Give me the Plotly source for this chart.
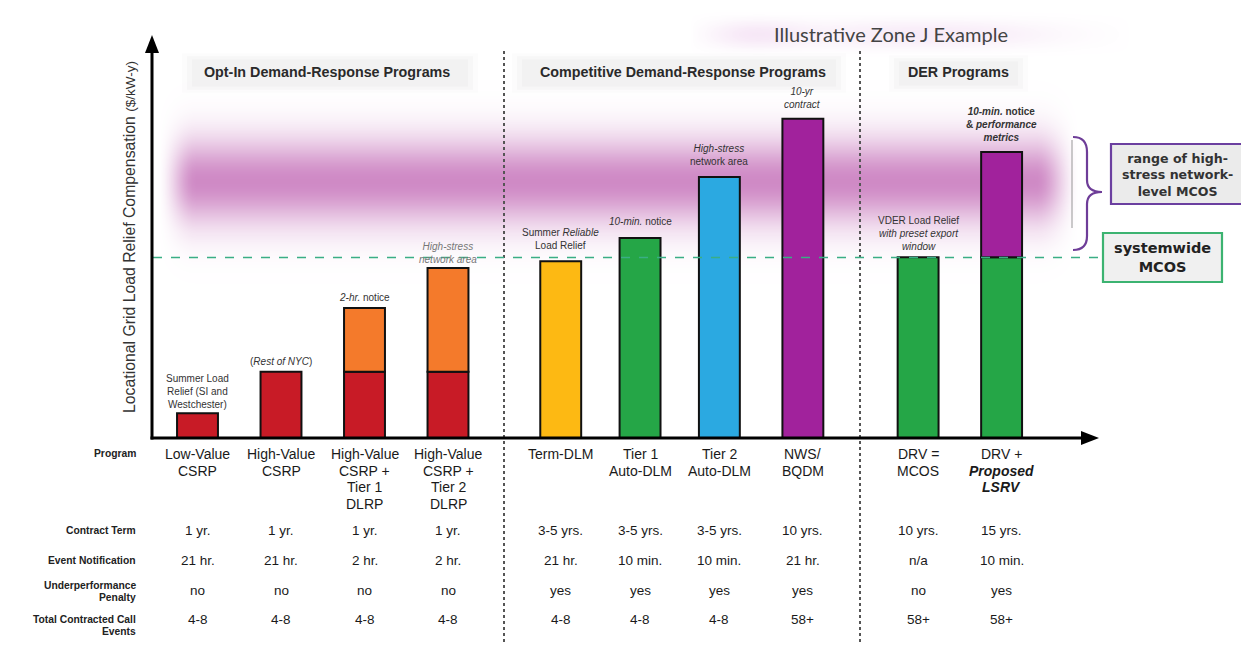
import numpy as np
import plotly.graph_objects as go

W, H = 1241, 651

# ---------------- data ----------------
programs = ["Low-Value<br>CSRP", "High-Value<br>CSRP", "High-Value<br>CSRP +<br>Tier 1<br>DLRP",
            "High-Value<br>CSRP +<br>Tier 2<br>DLRP", "Term-DLM", "Tier 1<br>Auto-DLM",
            "Tier 2<br>Auto-DLM", "NWS/<br>BQDM", "DRV =<br>MCOS",
            "DRV +<br><b><i>Proposed</i></b><br><b><i>LSRV</i></b>"]
base_values = [6.2, 16.5, 16.5, 16.5, 44.1, 49.9, 65.1, 79.6, 45.1, 45.1]
top_values = [None, None, 15.9, 25.9, None, None, None, None, None, 26.2]
systemwide_mcos = 45.0
high_stress_mcos_center = 64.0
high_stress_mcos_spread = 10.5

bar_notes = [
    "Summer Load<br>Relief (SI and<br>Westchester)",
    "(<i>Rest of NYC</i>)",
    "<i>2-hr.</i> notice",
    "<i>High-stress</i><br><i>network area</i>",
    "Summer <i>Reliable</i><br>Load Relief",
    "<i>10-min.</i> notice",
    "<i>High-stress</i><br>network area",
    "<i>10-yr</i><br><i>contract</i>",
    "VDER Load Relief<br><i>with preset export</i><br><i>window</i>",
    "<b><i>10-min.</i> notice</b><br><b>& <i>performance</i></b><br><b><i>metrics</i></b>",
]

row_labels = ["Program", "Contract Term", "Event Notification",
              "Underperformance<br>Penalty", "Total Contracted Call<br>Events"]
contract_term = ["1 yr.", "1 yr.", "1 yr.", "1 yr.", "3-5 yrs.", "3-5 yrs.", "3-5 yrs.",
                 "10 yrs.", "10 yrs.", "15 yrs."]
event_notification = ["21 hr.", "21 hr.", "2 hr.", "2 hr.", "21 hr.", "10 min.", "10 min.",
                      "21 hr.", "n/a", "10 min."]
underperformance_penalty = ["no", "no", "no", "no", "yes", "yes", "yes", "yes", "no", "yes"]
call_events = ["4-8", "4-8", "4-8", "4-8", "4-8", "4-8", "4-8", "58+", "58+", "58+"]

sections = ["Opt-In Demand-Response Programs", "Competitive Demand-Response Programs", "DER Programs"]
chart_title = "Illustrative Zone J Example"
y_title = "Locational Grid Load Relief Compensation <span style='font-size:13.5px'>($/kW-y)</span>"
high_stress_label = "range of high-<br>stress network-<br>level MCOS"
systemwide_label = "systemwide<br>MCOS"

# ---------------- layout / style ----------------
x_slots = [0, 1, 2, 3, 4.35, 5.3, 6.25, 7.25, 8.63, 9.63]
UNIT, X0 = 83.5, 197.5            # px per slot, px of slot 0
XR = [(152 - X0) / UNIT, (1097 - X0) / UNIT]

RED, ORANGE, YELLOW = "#C81B26", "#F47A2B", "#FDB913"
GREEN, BLUE, PURPLE = "#25A647", "#2BA9E1", "#A1229C"
base_colors = [RED, RED, RED, RED, YELLOW, GREEN, BLUE, PURPLE, GREEN, GREEN]
top_colors = [RED, RED, ORANGE, ORANGE, RED, RED, RED, RED, RED, PURPLE]
note_shift = [1.5, 2.5, 3.5, 0.5, 8.5, 8.5, 7.5, 6.5, 3.5, 7.5]
note_colors = ["#333"] * 3 + ["#777"] + ["#333"] * 6

FONT = "Liberation Sans, Arial, sans-serif"


def px(x):
    return x / W


def py(y):
    return 1 - y / H


def slot_of(xpx):
    return (xpx - X0) / UNIT


def smooth(t):
    t = np.clip(t, 0, 1)
    return t * t * (3 - 2 * t)


fig = go.Figure()

# purple high-stress band (background gradient)
xs = np.linspace(XR[0] - 0.1, XR[1] + 0.1, 240)
ys = np.linspace(10, 100, 181)
fy = np.exp(-(np.abs(ys - high_stress_mcos_center) / high_stress_mcos_spread) ** 2)
fx = smooth((xs - slot_of(156)) / (slot_of(196) - slot_of(156))) * \
    (1 - smooth((xs - slot_of(1035)) / (slot_of(1080) - slot_of(1035))))
z = np.outer(fy, fx)
fig.add_trace(go.Heatmap(x=xs, y=ys, z=z, zmin=0, zmax=1, zsmooth="best", showscale=False,
                         hoverinfo="skip",
                         colorscale=[[0, "rgba(180,72,165,0)"], [1, "rgba(180,72,165,0.64)"]]))

# title glow
gx = np.linspace(0, 1, 120)
gy = np.linspace(0, 1, 40)
gfy = np.sin(np.pi * gy) ** 2
gfx = (0.55 * np.exp(-((gx - 0.12) / 0.12) ** 2) + 0.35 * np.exp(-((gx - 0.55) / 0.35) ** 2)) \
    * np.sin(np.pi * gx) ** 0.5
gz = np.outer(gfy, gfx)
fig.add_trace(go.Heatmap(x=gx, y=gy, z=gz, zmin=0, zmax=1, zsmooth="best", showscale=False,
                         hoverinfo="skip", xaxis="x2", yaxis="y2",
                         colorscale=[[0, "rgba(205,120,205,0)"], [1, "rgba(205,120,205,0.42)"]]))

# bars
fig.add_trace(go.Bar(x=x_slots, y=base_values, width=0.49, marker_color=base_colors,
                     marker_line=dict(color="#111", width=2), hoverinfo="skip"))
fig.add_trace(go.Bar(x=x_slots, y=top_values, base=base_values, width=0.49, marker_color=top_colors,
                     marker_line=dict(color="#111", width=2), hoverinfo="skip"))

shapes = []
annots = []

# section title soft boxes
for (x0, x1, y0, y1) in [(190, 470, 58, 88), (520, 838, 58, 88), (897, 1020, 60, 87)]:
    for k, a in enumerate([0.025, 0.03, 0.035]):
        d = 8 - 5 * k
        shapes.append(dict(type="rect", xref="paper", yref="paper", x0=px(x0 - d), x1=px(x1 + d),
                           y0=py(y1 + d * 0.6), y1=py(y0 - d * 0.6),
                           fillcolor=f"rgba(110,110,110,{a})", line_width=0, layer="below"))

# dividers
for xd in [504, 860]:
    shapes.append(dict(type="line", xref="paper", yref="paper", x0=px(xd), x1=px(xd),
                       y0=py(642), y1=py(48), line=dict(color="#555", width=2, dash="dot")))

# systemwide MCOS dashed line
shapes.append(dict(type="line", xref="paper", yref="y", x0=px(153), x1=px(1102),
                   y0=systemwide_mcos, y1=systemwide_mcos,
                   line=dict(color="#3AAE85", width=1.6, dash="dash")))

# axes with arrows
shapes.append(dict(type="line", xref="paper", yref="paper", x0=px(152), x1=px(152),
                   y0=py(439.5), y1=py(50), line=dict(color="#000", width=3)))
shapes.append(dict(type="path", xref="paper", yref="paper",
                   path=f"M {px(152)} {py(35)} L {px(145)} {py(53)} L {px(159)} {py(53)} Z",
                   fillcolor="#000", line_width=0))
shapes.append(dict(type="line", xref="paper", yref="paper", x0=px(150.5), x1=px(1085),
                   y0=py(438), y1=py(438), line=dict(color="#000", width=3)))
shapes.append(dict(type="path", xref="paper", yref="paper",
                   path=f"M {px(1099)} {py(438)} L {px(1081)} {py(431)} L {px(1081)} {py(445)} Z",
                   fillcolor="#000", line_width=0))

# faint grey edge line of band
shapes.append(dict(type="line", xref="paper", yref="paper", x0=px(1072), x1=px(1072),
                   y0=py(228), y1=py(140), line=dict(color="rgba(140,140,140,0.45)", width=2)))

# curly brace
bp = [("M", 1073, 137), ("Q", 1087, 137, 1087, 152), ("L", 1087, 180),
      ("Q", 1087, 192, 1102, 192), ("Q", 1087, 192, 1087, 204), ("L", 1087, 236),
      ("Q", 1087, 250, 1073, 250)]
path = ""
for seg in bp:
    cmd, vals = seg[0], seg[1:]
    coords = []
    for i in range(0, len(vals), 2):
        coords.append(f"{px(vals[i]):.5f},{py(vals[i + 1]):.5f}")
    path += cmd + " " + " ".join(coords) + " "
shapes.append(dict(type="path", xref="paper", yref="paper", path=path,
                   line=dict(color="#6E3D98", width=2.2)))

# right boxes
shapes.append(dict(type="rect", xref="paper", yref="paper", x0=px(1111), x1=px(1245),
                   y0=py(204), y1=py(144), fillcolor="#EBEBEB",
                   line=dict(color="#6B3FA0", width=2.2)))
shapes.append(dict(type="rect", xref="paper", yref="paper", x0=px(1103), x1=px(1222),
                   y0=py(282), y1=py(233), fillcolor="#F0F0F0",
                   line=dict(color="#3CB371", width=2.2)))


def ann(**kw):
    kw.setdefault("showarrow", False)
    kw.setdefault("xanchor", "center")
    kw.setdefault("yanchor", "middle")
    annots.append(kw)


ann(x=px(1177), y=py(175), xref="paper", yref="paper",
    text="<b>" + high_stress_label.replace("<br>", "</b><br><b>") + "</b>",
    font=dict(family="DejaVu Sans", size=12.6, color="#333"))
ann(x=px(1162), y=py(257.5), xref="paper", yref="paper",
    text="<b>" + systemwide_label.replace("<br>", "</b><br><b>") + "</b>",
    font=dict(family="DejaVu Sans", size=14.5, color="#222"))

# title
ann(x=px(891), y=py(34), xref="paper", yref="paper", text=chart_title,
    font=dict(family="Lato", size=20, color="#444"))

# section titles
for t, xc in zip(sections, [327, 683, 958]):
    ann(x=px(xc), y=py(72.5), xref="paper", yref="paper", text=f"<b>{t}</b>",
        font=dict(size=14.3, color="#2a2a2a"))

# y-axis title
ann(x=px(130), y=py(237), xref="paper", yref="paper", textangle=-90, text=y_title,
    font=dict(size=15.8, color="#333"))

# bar notes
for i, note in enumerate(bar_notes):
    top = base_values[i] + (top_values[i] or 0)
    ann(x=x_slots[i], y=top, xref="x", yref="y", yanchor="bottom", yshift=note_shift[i],
        text=note, font=dict(size=10, color=note_colors[i]))


def add_lines(text, x, xref, y_first, spacing, size, color, xanchor="center"):
    for j, line in enumerate(text.split("<br>")):
        ann(x=x, y=py(y_first + j * spacing), xref=xref, yref="paper", text=line,
            xanchor=xanchor, font=dict(size=size, color=color))


# program labels
for i, p in enumerate(programs):
    add_lines(p, x_slots[i], "x", 454, 16.5, 14, "#1a1a1a")

# row labels
row_y = [453, 530, 560, 585, 619]
for lab, yy in zip(row_labels, row_y):
    add_lines("<b>" + lab.replace("<br>", "</b><br><b>") + "</b>", px(138), "paper", yy, 12,
              10.3, "#222", xanchor="right")

# table values
for vals, yy in zip([contract_term, event_notification, underperformance_penalty, call_events],
                    [530, 560, 590, 619]):
    for i, v in enumerate(vals):
        add_lines(v, x_slots[i], "x", yy, 12, 13.5, "#1a1a1a")

fig.update_layout(
    width=W, height=H, margin=dict(l=0, r=0, t=0, b=0),
    paper_bgcolor="white", plot_bgcolor="rgba(0,0,0,0)",
    font=dict(family=FONT, color="#222"),
    showlegend=False, barmode="overlay",
    xaxis=dict(domain=[px(152), px(1097)], range=XR, visible=False, fixedrange=True),
    yaxis=dict(domain=[py(438), py(37)], range=[0, 100], visible=False, fixedrange=True),
    xaxis2=dict(domain=[px(690), px(1130)], range=[0, 1], visible=False, anchor="y2"),
    yaxis2=dict(domain=[py(58), py(10)], range=[0, 1], visible=False, anchor="x2"),
    shapes=shapes, annotations=annots,
)

fig.write_html("out.html")
